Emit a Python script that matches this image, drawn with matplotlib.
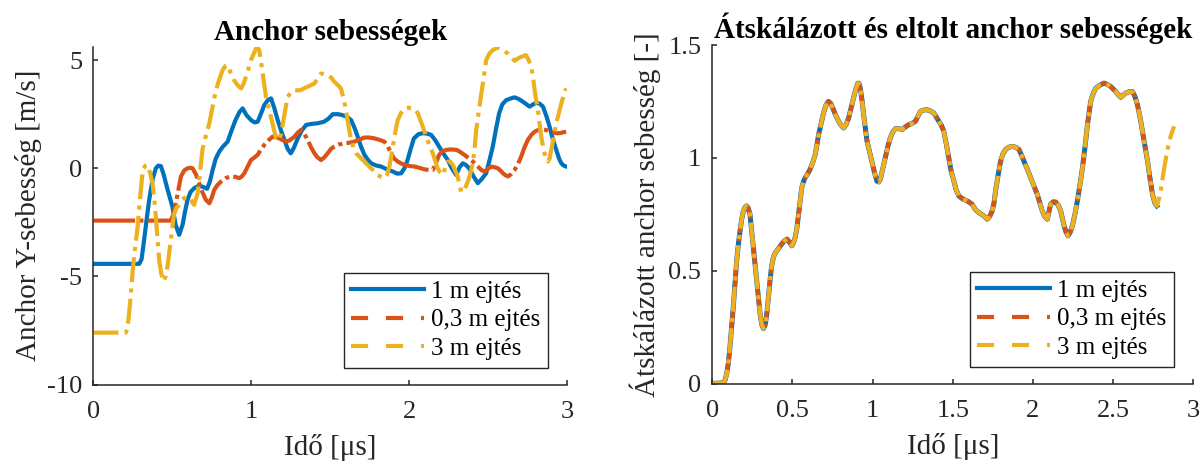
import numpy as np
import matplotlib
matplotlib.use("Agg")
import matplotlib.pyplot as plt
from matplotlib.lines import Line2D

plt.rcParams['font.family'] = ['Liberation Serif', 'DejaVu Serif']
plt.rcParams['axes.unicode_minus'] = False

# --- bal oldal: anchor sebessegek [m/s] ---
t_1m = [0.0, 0.29, 0.305, 0.321, 0.338, 0.353, 0.375, 0.395, 0.41, 0.427, 0.445, 0.47, 0.5, 0.52, 0.543,
        0.565, 0.58, 0.596, 0.615, 0.638, 0.665, 0.69, 0.72, 0.738, 0.755, 0.775, 0.797, 0.82, 0.85, 0.875,
        0.9, 0.925, 0.945, 0.97, 0.998, 1.02, 1.04, 1.06, 1.082, 1.105, 1.125, 1.145, 1.167, 1.19, 1.21,
        1.23, 1.25, 1.27, 1.294, 1.32, 1.347, 1.38, 1.42, 1.46, 1.49, 1.516, 1.55, 1.575, 1.605, 1.632,
        1.655, 1.674, 1.695, 1.717, 1.74, 1.759, 1.79, 1.822, 1.86, 1.896, 1.925, 1.95, 1.97, 1.99, 2.01,
        2.03, 2.06, 2.087, 2.115, 2.14, 2.165, 2.19, 2.22, 2.245, 2.27, 2.298, 2.32, 2.34, 2.36, 2.38,
        2.41, 2.435, 2.46, 2.488, 2.51, 2.53, 2.55, 2.57, 2.59, 2.615, 2.64, 2.668, 2.695, 2.72, 2.745,
        2.763, 2.785, 2.805, 2.828, 2.848, 2.87, 2.89, 2.91, 2.932, 2.95, 2.964, 2.98, 2.995]
v_1m = [-4.42, -4.42, -4.2, -3.3, -2.3, -1.46, -0.5, 0.0, 0.12, 0.1, -0.3, -1.0, -1.77, -2.6, -3.08,
        -2.6, -2.0, -1.46, -1.1, -0.92, -0.82, -0.85, -0.95, -0.6, -0.08, 0.45, 0.77, 1.0, 1.23, 1.75,
        2.23, 2.6, 2.77, 2.45, 2.23, 2.12, 2.15, 2.5, 2.92, 3.15, 3.23, 2.8, 2.23, 1.7, 1.31,
        0.9, 0.69, 0.95, 1.38, 1.75, 2.0, 2.05, 2.08, 2.15, 2.3, 2.5, 2.5, 2.46, 2.38, 2.23,
        1.85, 1.46, 1.0, 0.62, 0.38, 0.23, 0.13, 0.08, -0.05, -0.15, -0.25, -0.23, 0.0, 0.38, 0.9,
        1.38, 1.58, 1.62, 1.6, 1.54, 1.3, 1.0, 0.65, 0.38, 0.0, -0.31, 0.05, 0.23, 0.15, 0.0,
        -0.4, -0.69, -0.5, -0.23, 0.4, 1.0, 1.8, 2.54, 2.95, 3.15, 3.22, 3.28, 3.2, 3.08, 2.95,
        2.85, 2.95, 3.03, 2.98, 2.85, 2.4, 1.92, 1.35, 0.85, 0.45, 0.23, 0.12, 0.08]

t_03m = [0.0, 0.49, 0.51, 0.53, 0.554, 0.575, 0.596, 0.612, 0.628, 0.65, 0.67, 0.69, 0.712, 0.734, 0.75,
         0.765, 0.785, 0.808, 0.84, 0.87, 0.9, 0.924, 0.94, 0.956, 0.975, 0.998, 1.02, 1.04, 1.06, 1.082,
         1.11, 1.135, 1.155, 1.178, 1.2, 1.22, 1.245, 1.273, 1.295, 1.315, 1.335, 1.357, 1.38, 1.4, 1.42,
         1.442, 1.462, 1.484, 1.505, 1.526, 1.555, 1.59, 1.62, 1.653, 1.685, 1.717, 1.75, 1.78, 1.81,
         1.843, 1.865, 1.886, 1.905, 1.928, 1.955, 1.98, 2.005, 2.033, 2.065, 2.097, 2.125, 2.15, 2.17,
         2.19, 2.21, 2.235, 2.265, 2.3, 2.325, 2.35, 2.38, 2.404, 2.425, 2.446, 2.462, 2.478, 2.5, 2.52,
         2.54, 2.562, 2.58, 2.594, 2.61, 2.626, 2.645, 2.668, 2.69, 2.71, 2.73, 2.752, 2.775, 2.795,
         2.815, 2.837, 2.86, 2.88, 2.905, 2.932, 2.96, 2.98, 2.995]
v_03m = [-2.42, -2.42, -2.08, -1.3, -0.38, -0.1, 0.0, 0.02, 0.0, -0.3, -0.69, -1.1, -1.46, -1.62, -1.35,
         -1.0, -0.78, -0.62, -0.45, -0.38, -0.4, -0.46, -0.38, -0.23, 0.05, 0.38, 0.5, 0.62, 0.85, 1.08,
         1.3, 1.46, 1.45, 1.38, 1.3, 1.23, 1.3, 1.46, 1.65, 1.77, 1.6, 1.31, 0.95, 0.69, 0.5,
         0.38, 0.5, 0.69, 0.9, 1.0, 1.1, 1.15, 1.18, 1.23, 1.33, 1.42, 1.42, 1.38, 1.32,
         1.23, 1.0, 0.69, 0.45, 0.31, 0.2, 0.15, 0.1, 0.08, 0.02, -0.05, -0.08, -0.08, 0.25,
         0.62, 0.78, 0.85, 0.87, 0.85, 0.75, 0.62, 0.45, 0.31, 0.15, 0.0, -0.1, -0.15, -0.02, 0.08,
         0.05, 0.0, -0.12, -0.23, -0.32, -0.38, -0.28, -0.08, 0.2, 0.54, 0.95, 1.31, 1.55, 1.69,
         1.76, 1.8, 1.78, 1.74, 1.68, 1.62, 1.63, 1.67, 1.69]

t_3m = [0.0, 0.205, 0.215, 0.226, 0.237, 0.247, 0.263, 0.28, 0.29, 0.3, 0.308, 0.317, 0.33, 0.342, 0.358,
        0.374, 0.385, 0.395, 0.405, 0.416, 0.43, 0.444, 0.457, 0.469, 0.48, 0.49, 0.5, 0.51, 0.525,
        0.543, 0.565, 0.586, 0.6, 0.617, 0.628, 0.638, 0.648, 0.66, 0.675, 0.69, 0.71, 0.734, 0.755,
        0.776, 0.797, 0.818, 0.835, 0.85, 0.87, 0.89, 0.912, 0.935, 0.95, 0.966, 0.982, 0.998, 1.015,
        1.03, 1.042, 1.05, 1.06, 1.072, 1.082, 1.093, 1.11, 1.125, 1.14, 1.157, 1.168, 1.178, 1.19,
        1.2, 1.215, 1.23, 1.25, 1.273, 1.295, 1.315, 1.335, 1.357, 1.38, 1.4, 1.42, 1.442, 1.465,
        1.484, 1.505, 1.526, 1.548, 1.568, 1.585, 1.6, 1.615, 1.632, 1.648, 1.664, 1.69, 1.717, 1.738,
        1.759, 1.78, 1.8, 1.822, 1.843, 1.86, 1.875, 1.89, 1.907, 1.918, 1.928, 1.948, 1.97, 1.995,
        2.023, 2.04, 2.055, 2.07, 2.087, 2.103, 2.12, 2.135, 2.15, 2.165, 2.18, 2.197, 2.214, 2.23,
        2.245, 2.26, 2.277, 2.292, 2.308, 2.32, 2.33, 2.34, 2.35, 2.367, 2.383, 2.394, 2.404, 2.415,
        2.425, 2.436, 2.446, 2.456, 2.467, 2.478, 2.488, 2.508, 2.53, 2.552, 2.573, 2.6, 2.626, 2.648,
        2.668, 2.69, 2.71, 2.74, 2.757, 2.774, 2.785, 2.795, 2.805, 2.816, 2.826, 2.837, 2.848, 2.858,
        2.87, 2.88, 2.89, 2.9, 2.916, 2.932, 2.948, 2.964, 2.98, 2.995]
v_3m = [-7.6, -7.6, -7.4, -6.7, -5.8, -4.85, -3.7, -2.7, -1.8, -1.0, -0.4, 0.0, 0.12, 0.15, -0.2,
        -0.69, -1.4, -2.23, -3.2, -4.23, -4.9, -5.23, -5.0, -4.54, -3.9, -3.3, -2.7, -2.15, -1.85,
        -1.69, -1.45, -1.31, -1.35, -1.46, -1.6, -1.69, -1.45, -1.15, -0.2, 0.85, 1.45, 2.08, 2.85,
        3.62, 4.1, 4.54, 4.72, 4.77, 4.4, 4.08, 3.85, 3.69, 3.9, 4.23, 4.6, 5.0, 5.3,
        5.54, 5.58, 5.46, 5.0, 4.38, 3.85, 3.3, 2.8, 2.38, 1.9, 1.38, 1.3, 1.31, 1.65,
        2.08, 2.7, 3.3, 3.5, 3.62, 3.6, 3.62, 3.7, 3.77, 3.85, 3.92, 4.15, 4.38, 4.35,
        4.32, 4.2, 4.0, 3.85, 3.69, 3.2, 2.69, 2.0, 1.31, 0.95, 0.69, 0.5, 0.31, 0.15,
        0.0, -0.15, -0.31, -0.4, -0.46, -0.3, 0.08, 0.7, 1.46, 1.9, 2.23, 2.55, 2.77, 2.8,
        2.77, 2.7, 2.54, 2.25, 1.92, 1.55, 1.23, 0.95, 0.69, 0.35, 0.0, -0.2, -0.31, 0.05,
        0.31, 0.3, 0.15, -0.1, -0.38, -0.8, -1.08, -1.1, -1.0, -0.7, -0.38, -0.05, 0.23, 0.95,
        1.77, 2.35, 2.85, 3.4, 3.92, 4.5, 5.0, 5.3, 5.46, 5.55, 5.58, 5.45, 5.3, 5.12,
        4.97, 5.08, 5.15, 5.23, 5.0, 4.69, 4.2, 3.62, 3.15, 2.69, 2.1, 1.46, 1.0, 0.69,
        0.45, 0.31, 0.45, 0.85, 1.45, 2.08, 2.55, 3.0, 3.38, 3.69]

# --- jobb oldal: atskalazott es eltolt sebessegek [-] (a harom gorbe egybeesik) ---
t_scaled = [0.0, 0.069, 0.08, 0.09, 0.1, 0.11, 0.12, 0.131, 0.142, 0.152, 0.163, 0.173, 0.184, 0.194,
            0.205, 0.215, 0.225, 0.235, 0.245, 0.256, 0.267, 0.277, 0.288, 0.298, 0.309, 0.319, 0.33,
            0.34, 0.35, 0.36, 0.37, 0.381, 0.392, 0.402, 0.418, 0.433, 0.45, 0.465, 0.48, 0.496, 0.507,
            0.517, 0.528, 0.538, 0.548, 0.558, 0.569, 0.579, 0.595, 0.61, 0.626, 0.642, 0.652, 0.663,
            0.678, 0.694, 0.71, 0.725, 0.74, 0.756, 0.772, 0.788, 0.803, 0.819, 0.835, 0.85, 0.865,
            0.881, 0.895, 0.908, 0.915, 0.923, 0.933, 0.944, 0.955, 0.965, 0.98, 0.996, 1.01, 1.027,
            1.038, 1.048, 1.063, 1.079, 1.095, 1.11, 1.126, 1.142, 1.162, 1.183, 1.205, 1.225, 1.245,
            1.267, 1.283, 1.298, 1.32, 1.34, 1.36, 1.381, 1.398, 1.413, 1.428, 1.444, 1.46, 1.475,
            1.49, 1.507, 1.52, 1.538, 1.558, 1.579, 1.6, 1.621, 1.642, 1.663, 1.69, 1.715, 1.73,
            1.746, 1.757, 1.767, 1.782, 1.798, 1.814, 1.83, 1.85, 1.871, 1.892, 1.913, 1.93, 1.944,
            1.965, 1.986, 2.006, 2.027, 2.043, 2.058, 2.074, 2.09, 2.1, 2.11, 2.126, 2.142, 2.158,
            2.173, 2.184, 2.194, 2.207, 2.219, 2.232, 2.246, 2.262, 2.277, 2.293, 2.309, 2.325, 2.34,
            2.35, 2.36, 2.376, 2.392, 2.418, 2.444, 2.465, 2.485, 2.5, 2.517, 2.532, 2.548, 2.563,
            2.579, 2.6, 2.621, 2.637, 2.652, 2.668, 2.683, 2.7, 2.715, 2.73, 2.746, 2.76, 2.773]
v_scaled = [0.0, 0.003, 0.015, 0.044, 0.09, 0.16, 0.245, 0.34, 0.445, 0.544, 0.62, 0.676, 0.73, 0.765,
            0.782, 0.787, 0.775, 0.75, 0.68, 0.603, 0.53, 0.456, 0.38, 0.309, 0.26, 0.243, 0.26,
            0.309, 0.38, 0.456, 0.52, 0.559, 0.578, 0.588, 0.603, 0.618, 0.632, 0.64, 0.628, 0.61, 0.625,
            0.647, 0.69, 0.75, 0.81, 0.868, 0.895, 0.912, 0.93, 0.949, 0.978, 1.015, 1.055, 1.103,
            1.15, 1.199, 1.235, 1.25, 1.24, 1.213, 1.185, 1.162, 1.145, 1.132, 1.148, 1.176, 1.22,
            1.265, 1.305, 1.331, 1.33, 1.309, 1.26, 1.191, 1.13, 1.074, 1.03, 0.985, 0.94, 0.897,
            0.893, 0.904, 0.95, 1.0, 1.05, 1.088, 1.115, 1.129, 1.13, 1.125, 1.137, 1.147, 1.152,
            1.162, 1.185, 1.206, 1.212, 1.213, 1.208, 1.199, 1.18, 1.162, 1.145, 1.118, 1.06, 1.0,
            0.94, 0.897, 0.86, 0.831, 0.82, 0.812, 0.805, 0.794, 0.77, 0.757, 0.745, 0.728, 0.74,
            0.765, 0.8, 0.853, 0.92, 0.985, 1.02, 1.037, 1.047, 1.051, 1.047, 1.037, 1.01, 0.985,
            0.95, 0.912, 0.875, 0.838, 0.8, 0.765, 0.74, 0.728, 0.76, 0.794, 0.805, 0.804, 0.79,
            0.765, 0.73, 0.699, 0.67, 0.654, 0.67, 0.699, 0.75, 0.809, 0.88, 0.956, 1.05, 1.147,
            1.2, 1.25, 1.285, 1.309, 1.322, 1.331, 1.325, 1.316, 1.306, 1.294, 1.28, 1.268, 1.278,
            1.287, 1.293, 1.294, 1.27, 1.235, 1.18, 1.118, 1.05, 0.985, 0.91, 0.838, 0.8, 0.787]
# a 3 m-es gorbe tovabb tart
t_3m_tail = [2.785, 2.798, 2.808, 2.819, 2.835, 2.85, 2.866, 2.881]
v_3m_tail = [0.815, 0.86, 0.905, 0.956, 1.02, 1.074, 1.11, 1.14]

labels = ['1 m ejtés', '0,3 m ejtés', '3 m ejtés']
colors = ['#0072BD', '#D95319', '#EDB120']
axcol = '#262626'
lw = 3

red_dash = (0, (10, 1, 1, 1))
yel_dash = (0, (6, 1.5, 1, 1.5))


def style_axes(ax, xlim, ylim, xticks, yticks, xticklabels, yticklabels):
    ax.set_xlim(*xlim)
    ax.set_ylim(*ylim)
    ax.set_xticks(xticks)
    ax.set_yticks(yticks)
    ax.set_xticklabels(xticklabels)
    ax.set_yticklabels(yticklabels)
    for s in ['top', 'right']:
        ax.spines[s].set_visible(False)
    for s in ['left', 'bottom']:
        ax.spines[s].set_color(axcol)
        ax.spines[s].set_linewidth(1.1)
    ax.tick_params(direction='in', length=3.6, width=1.1, colors=axcol, labelsize=19)
    ax.tick_params(axis='x', pad=12)
    ax.tick_params(axis='y', pad=8)


def add_legend(ax):
    handles = [Line2D([], [], color=colors[0], lw=lw),
               Line2D([], [], color=colors[1], lw=lw, dashes=(4.1, 4.3)),
               Line2D([], [], color=colors[2], lw=lw, dashes=(4.1, 4.3))]
    leg = ax.legend(handles, labels, loc='lower right', bbox_to_anchor=(0.96, 0.05),
                    borderaxespad=0, fontsize=18, handlelength=2.9, handletextpad=0.3,
                    labelspacing=0.25, borderpad=0.3, fancybox=False, framealpha=1)
    leg.get_frame().set_edgecolor(axcol)
    leg.get_frame().set_linewidth(1.0)


fig = plt.figure(figsize=(12.03, 4.63), dpi=100)
ax1 = fig.add_axes([0.0777, 0.1695, 0.3936, 0.7296])
ax2 = fig.add_axes([0.5921, 0.1717, 0.3998, 0.7311])

ax1.plot(t_1m, v_1m, color=colors[0], lw=lw, solid_joinstyle='round')
ax1.plot(t_03m, v_03m, color=colors[1], lw=lw, linestyle=red_dash)
ax1.plot(t_3m, v_3m, color=colors[2], lw=lw, linestyle=yel_dash)
style_axes(ax1, (0, 3), (-10, 5.62), [0, 1, 2, 3], [-10, -5, 0, 5],
           ['0', '1', '2', '3'], ['-10', '-5', '0', '5'])
ax1.set_title('Anchor sebességek', fontsize=21, fontweight='bold', pad=5)
ax1.set_xlabel('Idő [μs]', fontsize=21, color=axcol, labelpad=8)
ax1.set_ylabel('Anchor Y-sebesség [m/s]', fontsize=21, color=axcol, labelpad=4)
add_legend(ax1)

ax2.plot(t_scaled, v_scaled, color=colors[0], lw=lw + 0.6, solid_joinstyle='round')
ax2.plot(t_scaled, v_scaled, color=colors[1], lw=lw, linestyle=red_dash)
ax2.plot(t_scaled + t_3m_tail, v_scaled + v_3m_tail, color=colors[2], lw=lw, linestyle=yel_dash)
style_axes(ax2, (0, 3), (0, 1.5), [0, 0.5, 1, 1.5, 2, 2.5, 3], [0, 0.5, 1, 1.5],
           ['0', '0.5', '1', '1.5', '2', '2.5', '3'], ['0', '0.5', '1', '1.5'])
ax2.set_title('Átskálázott és eltolt anchor sebességek', fontsize=21, fontweight='bold', pad=5)
ax2.set_xlabel('Idő [μs]', fontsize=21, color=axcol, labelpad=8)
ax2.set_ylabel('Átskálázott anchor sebesség [-]', fontsize=21, color=axcol, labelpad=5)
add_legend(ax2)

fig.savefig('out.png', dpi=100)
